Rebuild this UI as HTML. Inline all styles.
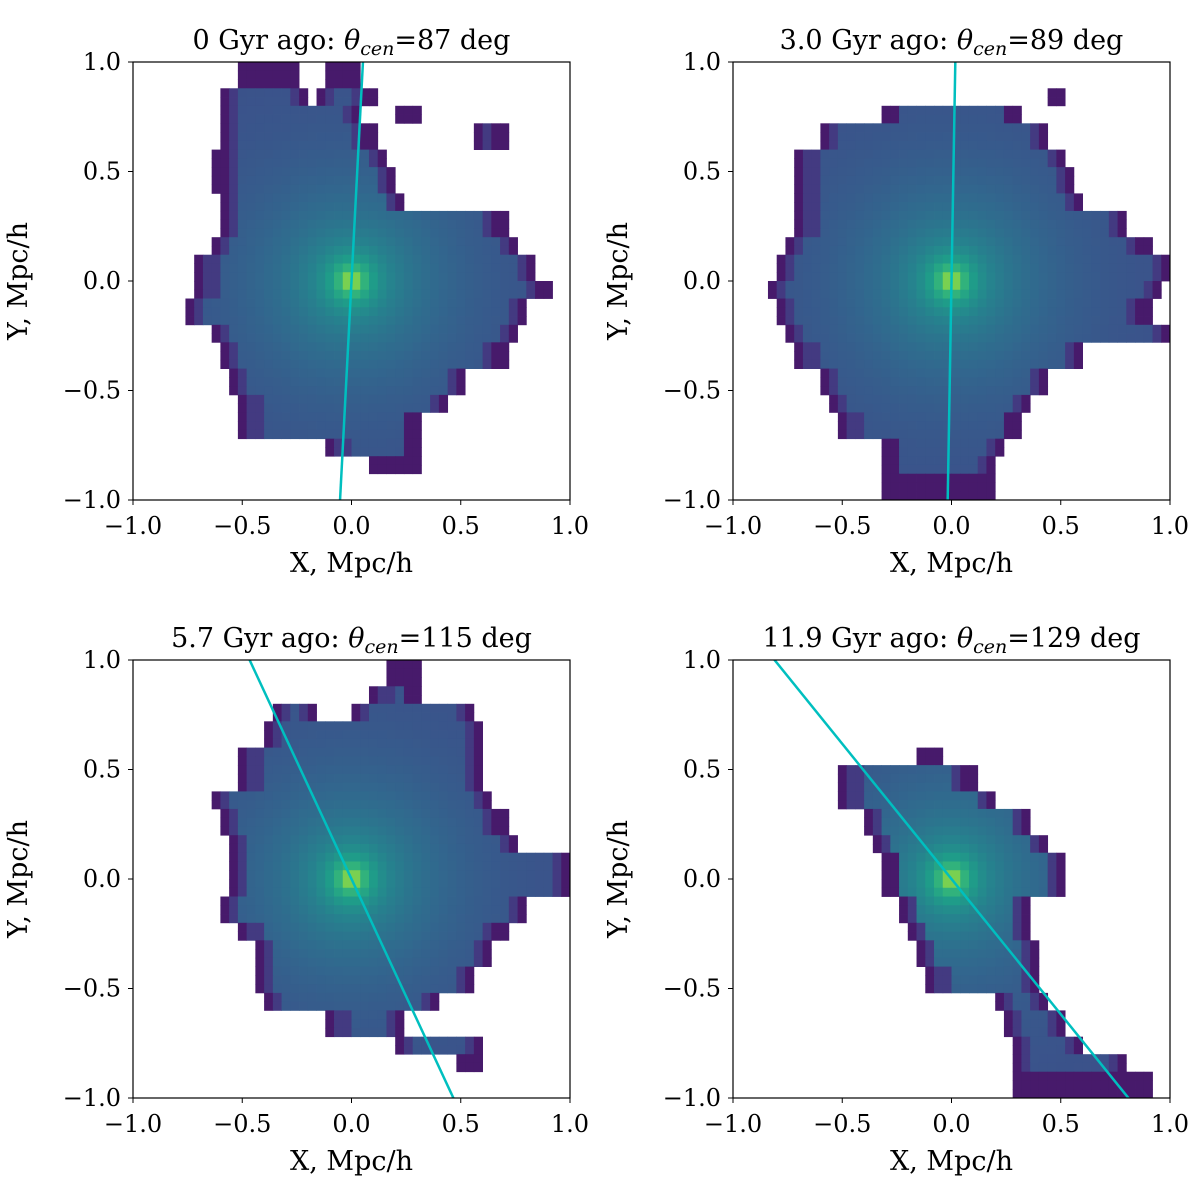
<!DOCTYPE html>
<html><head><meta charset="utf-8">
<style>
html,body{margin:0;padding:0;background:#fff;overflow:hidden;width:1200px;height:1200px;}
svg{display:block;}
svg text{font-family:"DejaVu Serif","Liberation Serif",serif;fill:#000;}
</style></head>
<body>
<svg id="fig" width="1200" height="1200" viewBox="0 0 1200 1200" xmlns="http://www.w3.org/2000/svg"></svg>
<script>
// Panel titles / angles
const panelAges = ["0", "3.0", "5.7", "11.9"];
const panelThetas = [87, 89, 115, 129];
const tickValues = [-1.0, -0.5, 0.0, 0.5, 1.0];
const tickLabels = ["\u22121.0", "\u22120.5", "0.0", "0.5", "1.0"];
// Row extents (y row centre, list of [xmin,xmax] intervals)
const rowsP1 = [
 [0.95, [[-0.5,-0.25],[-0.1,0.05]]],[0.85, [[-0.6,-0.2],[-0.15,0.1]]],[0.75, [[-0.6,0.05],[0.2,0.3]]],
 [0.65, [[-0.6,0.1],[0.55,0.7]]],[0.55, [[-0.62,0.15]]],[0.45, [[-0.62,0.2]]],[0.35, [[-0.6,0.25]]],
 [0.25, [[-0.6,0.7]]],[0.15, [[-0.65,0.75]]],[0.05, [[-0.7,0.85]]],[-0.05, [[-0.7,0.9]]],
 [-0.15, [[-0.75,0.8]]],[-0.25, [[-0.65,0.75]]],[-0.35, [[-0.6,0.7]]],[-0.45, [[-0.55,0.5]]],
 [-0.55, [[-0.5,0.45]]],[-0.65, [[-0.5,0.3]]],[-0.75, [[-0.1,0.3]]],[-0.85, [[0.1,0.3]]]
];
const rowsP2 = [
 [0.85, [[0.45,0.5]]],[0.75, [[-0.3,0.3]]],[0.65, [[-0.6,0.45]]],[0.55, [[-0.7,0.5]]],
 [0.45, [[-0.7,0.55]]],[0.35, [[-0.7,0.6]]],[0.25, [[-0.7,0.8]]],[0.15, [[-0.75,0.9]]],
 [0.05, [[-0.8,1.0]]],[-0.05, [[-0.85,0.95]]],[-0.15, [[-0.8,0.9]]],[-0.25, [[-0.75,1.0]]],
 [-0.35, [[-0.7,0.6]]],[-0.45, [[-0.6,0.45]]],[-0.55, [[-0.55,0.35]]],[-0.65, [[-0.5,0.3]]],
 [-0.75, [[-0.3,0.25]]],[-0.85, [[-0.3,0.2]]],[-0.95, [[-0.3,0.2]]]
];
const rowsP3 = [
 [0.95, [[0.15,0.3]]],[0.85, [[0.1,0.3]]],[0.75, [[-0.35,-0.15],[0.0,0.55]]],[0.65, [[-0.4,0.6]]],
 [0.55, [[-0.5,0.6]]],[0.45, [[-0.5,0.6]]],[0.35, [[-0.65,0.65]]],[0.25, [[-0.6,0.7]]],
 [0.15, [[-0.55,0.75]]],[0.05, [[-0.55,1.0]]],[-0.05, [[-0.55,1.0]]],[-0.15, [[-0.6,0.8]]],
 [-0.25, [[-0.5,0.7]]],[-0.35, [[-0.45,0.65]]],[-0.45, [[-0.45,0.55]]],[-0.55, [[-0.4,0.4]]],
 [-0.65, [[-0.1,0.25]]],[-0.75, [[0.2,0.6]]],[-0.85, [[0.5,0.6]]]
];
const rowsP4 = [
 [0.55, [[-0.15,-0.05]]],[0.45, [[-0.5,0.1]]],[0.35, [[-0.5,0.2]]],[0.25, [[-0.4,0.35]]],
 [0.15, [[-0.35,0.45]]],[0.05, [[-0.3,0.5]]],[-0.05, [[-0.3,0.5]]],[-0.15, [[-0.25,0.35]]],
 [-0.25, [[-0.2,0.35]]],[-0.35, [[-0.15,0.4]]],[-0.45, [[-0.1,0.4]]],[-0.55, [[0.2,0.45]]],
 [-0.65, [[0.25,0.5]]],[-0.75, [[0.3,0.6]]],[-0.85, [[0.3,0.8]]],[-0.95, [[0.3,0.9]]]
];
const panelRows = [rowsP1, rowsP2, rowsP3, rowsP4];

const NS = "http://www.w3.org/2000/svg";
const svg = document.getElementById("fig");
const boxes = [[133,62],[733,62],[133,660],[733,660]];
const W = 437, H = 438, NB = 50;
const vir = [[68,1,84],[72,40,120],[62,74,137],[49,104,142],[38,130,142],[31,158,137],[53,183,121],[110,206,88],[181,222,43],[253,231,37]];
function viridis(t){t=Math.max(0,Math.min(1,t));const f=t*(vir.length-1);const i=Math.min(vir.length-2,Math.floor(f));const u=f-i;
 const c=vir[i].map((v,k)=>Math.round(v+(vir[i+1][k]-v)*u));return `rgb(${c[0]},${c[1]},${c[2]})`;}
function mk(tag, attrs, parent){const e=document.createElementNS(NS,tag);for(const k in attrs)e.setAttribute(k,attrs[k]);(parent||svg).appendChild(e);return e;}

const defs = mk("defs",{});
panelRows.forEach((rows, p) => {
  const [x0,y0] = boxes[p];
  const sx = v => x0 + (v+1)/2*W;
  const sy = v => y0 + (1-v)/2*H;
  const g = mk("g",{});
  
  
  const cp = mk("clipPath",{id:"clip"+p},defs);
  mk("rect",{x:x0,y:y0,width:W,height:H},cp);
  const hm = mk("g",{"clip-path":"url(#clip"+p+")"},g);
  
  
  const bw = 2/NB;
  for (let j=0;j<NB;j++){
    const yc = 1 - (j+0.5)*bw;
    const row = rows.find(r => Math.abs(r[0]-yc) <= 0.05);
    if(!row) continue;
    const ri = rows.indexOf(row);
    for (let i=0;i<NB;i++){
      const xc = -1 + (i+0.5)*bw;
      const iv = row[1].find(a => xc>=a[0]-0.001 && xc<=a[1]+0.001);
      if(!iv) continue;
      const r = Math.hypot(xc,yc);
      let t = 0.24 + 0.36*Math.exp(-r/0.3) + 0.4*Math.exp(-r/0.05);
      const edge = Math.min(xc-iv[0], iv[1]-xc);
      if (edge < 0.04 || ri===0 || ri===rows.length-1) t = Math.min(t, 0.07);
      else if (edge < 0.08) t = Math.min(t, 0.17);
      const c = mk("rect",{x:sx(xc-bw/2).toFixed(2),y:sy(yc+bw/2).toFixed(2),width:(W/NB+0.4).toFixed(2),height:(H/NB+0.4).toFixed(2),fill:viridis(t)},hm);
      
      
    }
  }
  // orientation line
  const th = panelThetas[p]*Math.PI/180;
  const dx=Math.cos(th), dy=Math.sin(th);
  const L = mk("line",{x1:sx(-3*dx),y1:sy(-3*dy),x2:sx(3*dx),y2:sy(3*dy),stroke:"#00bfbf","stroke-width":2.5},hm);
  
  
  const fr = mk("rect",{x:x0,y:y0,width:W,height:H,fill:"none",stroke:"#000","stroke-width":1.2},g);
  
  
  tickValues.forEach((v,k)=>{
    mk("line",{x1:sx(v),y1:y0+H,x2:sx(v),y2:y0+H+5,stroke:"#000","stroke-width":1},g);
    const tx = mk("text",{x:sx(v),y:y0+H+34,"font-size":24,"text-anchor":"middle"},g);
    tx.textContent = tickLabels[k];
    
    
    mk("line",{x1:x0-5,y1:sy(v),x2:x0,y2:sy(v),stroke:"#000","stroke-width":1},g);
    const ty = mk("text",{x:x0-12,y:sy(v)+8,"font-size":24,"text-anchor":"end"},g);
    ty.textContent = tickLabels[k];
    
    
  });
  const xl = mk("text",{x:x0+W/2,y:y0+H+72,"font-size":27,"text-anchor":"middle"},g);
  xl.textContent = "X, Mpc/h";
  
  
  const yl = mk("text",{x:0,y:0,"font-size":27,"text-anchor":"middle",transform:`translate(${x0-106},${y0+H/2}) rotate(-90)`},g);
  yl.textContent = "Y, Mpc/h";
  
  
  const tt = mk("text",{x:x0+W/2,y:y0-13,"font-size":27,"text-anchor":"middle"},g);
  
  
  tt.appendChild(document.createTextNode(panelAges[p]+" Gyr ago: "));
  const s1 = mk("tspan",{"font-style":"italic"},tt); s1.textContent="\u03B8";
  const s2 = mk("tspan",{"font-style":"italic","font-size":19,dy:6},tt); s2.textContent="cen";
  const s3 = mk("tspan",{dy:-6},tt); s3.textContent="="+panelThetas[p]+" deg";
});
</script>
</body></html>
